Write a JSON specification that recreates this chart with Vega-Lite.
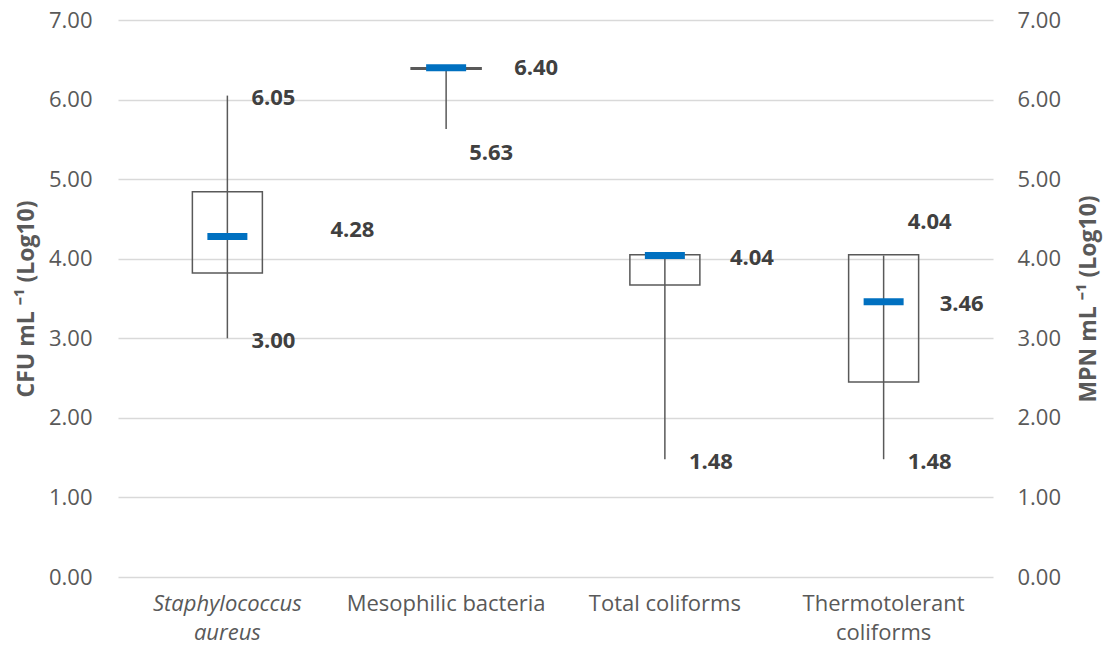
{
  "$schema": "https://vega.github.io/schema/vega-lite/v6.json",
  "width": 875,
  "height": 557,
  "autosize": {"type": "none"},
  "padding": {"left": 118, "top": 20, "right": 112, "bottom": 75},
  "background": "white",
  "config": {
    "view": {"stroke": null},
    "font": "Open Sans",
    "axis": {
      "labelFont": "Open Sans",
      "labelFontSize": 22,
      "labelColor": "#595959",
      "titleFont": "Open Sans",
      "titleFontSize": 23,
      "titleFontWeight": "bold",
      "titleColor": "#595959",
      "ticks": false,
      "domain": false,
      "labelLimit": 0
    }
  },
  "data": {
    "values": [
      {"cat": "Staphylococcus aureus", "min": 3.00, "q1": 3.82, "median": 4.28, "q3": 4.84, "max": 6.05},
      {"cat": "Mesophilic bacteria", "min": 5.63, "q1": 6.38, "median": 6.40, "q3": 6.40, "max": 6.40},
      {"cat": "Total coliforms", "min": 1.48, "q1": 3.67, "median": 4.04, "q3": 4.05, "max": 4.04},
      {"cat": "Thermotolerant coliforms", "min": 1.48, "q1": 2.45, "median": 3.46, "q3": 4.05, "max": 4.04}
    ]
  },
  "layer": [
    {
      "encoding": {
        "x": {
          "field": "cat",
          "type": "nominal",
          "sort": null,
          "scale": {"paddingInner": 0, "paddingOuter": 0},
          "axis": {
            "title": null,
            "labelAngle": 0,
            "labelPadding": 16,
            "labelBaseline": "top",
            "labelLineHeight": 29,
            "labelExpr": "datum.value == 'Staphylococcus aureus' ? ['Staphylococcus', 'aureus'] : datum.value == 'Thermotolerant coliforms' ? ['Thermotolerant', 'coliforms'] : datum.value",
            "labelFontStyle": {"condition": {"test": "datum.value == 'Staphylococcus aureus'", "value": "italic"}, "value": "normal"}
          }
        }
      },
      "layer": [
        {
          "mark": {"type": "bar", "size": 70, "fillOpacity": 0, "stroke": "#595959", "strokeWidth": 1.5},
          "encoding": {
            "y": {
              "field": "q1",
              "type": "quantitative",
              "scale": {"domain": [0, 7], "nice": false},
              "axis": {
                "title": "CFU mL ⁻¹ (Log10)",
                "format": ".2f",
                "values": [0, 1, 2, 3, 4, 5, 6, 7],
                "grid": true,
                "gridColor": "#d9d9d9",
                "gridWidth": 1.5,
                "labelPadding": 26,
                "titlePadding": 10
              }
            },
            "y2": {"field": "q3"}
          }
        },
        {
          "mark": {"type": "rule", "stroke": "#595959", "strokeWidth": 1.5},
          "encoding": {"y": {"field": "min", "type": "quantitative"}, "y2": {"field": "max"}}
        },
        {
          "mark": {"type": "tick", "color": "#0070C0", "size": 40, "thickness": 7, "opacity": 1},
          "encoding": {"y": {"field": "median", "type": "quantitative"}}
        },
        {
          "transform": [{"filter": "datum.cat == 'Staphylococcus aureus'"}],
          "mark": {"type": "text", "fontWeight": "bold", "fontSize": 22, "color": "#404040", "dx": 46, "dy": 2},
          "encoding": {"y": {"field": "max", "type": "quantitative"}, "text": {"field": "max", "type": "quantitative", "format": ".2f"}}
        },
        {
          "transform": [{"filter": "datum.cat == 'Thermotolerant coliforms'"}],
          "mark": {"type": "text", "fontWeight": "bold", "fontSize": 22, "color": "#404040", "dx": 46, "dy": -34},
          "encoding": {"y": {"field": "max", "type": "quantitative"}, "text": {"field": "max", "type": "quantitative", "format": ".2f"}}
        },
        {
          "transform": [{"filter": "datum.cat == 'Staphylococcus aureus'"}],
          "mark": {"type": "text", "fontWeight": "bold", "fontSize": 22, "color": "#404040", "dx": 125, "dy": -6},
          "encoding": {"y": {"field": "median", "type": "quantitative"}, "text": {"field": "median", "type": "quantitative", "format": ".2f"}}
        },
        {
          "transform": [{"filter": "datum.cat == 'Mesophilic bacteria'"}],
          "mark": {"type": "text", "fontWeight": "bold", "fontSize": 22, "color": "#404040", "dx": 90, "dy": 0},
          "encoding": {"y": {"field": "median", "type": "quantitative"}, "text": {"field": "median", "type": "quantitative", "format": ".2f"}}
        },
        {
          "transform": [{"filter": "datum.cat == 'Total coliforms'"}],
          "mark": {"type": "text", "fontWeight": "bold", "fontSize": 22, "color": "#404040", "dx": 87, "dy": 2},
          "encoding": {"y": {"field": "median", "type": "quantitative"}, "text": {"field": "median", "type": "quantitative", "format": ".2f"}}
        },
        {
          "transform": [{"filter": "datum.cat == 'Thermotolerant coliforms'"}],
          "mark": {"type": "text", "fontWeight": "bold", "fontSize": 22, "color": "#404040", "dx": 78, "dy": 2},
          "encoding": {"y": {"field": "median", "type": "quantitative"}, "text": {"field": "median", "type": "quantitative", "format": ".2f"}}
        },
        {
          "transform": [{"filter": "datum.cat != 'Mesophilic bacteria'"}],
          "mark": {"type": "text", "fontWeight": "bold", "fontSize": 22, "color": "#404040", "dx": 46, "dy": 3},
          "encoding": {"y": {"field": "min", "type": "quantitative"}, "text": {"field": "min", "type": "quantitative", "format": ".2f"}}
        },
        {
          "transform": [{"filter": "datum.cat == 'Mesophilic bacteria'"}],
          "mark": {"type": "text", "fontWeight": "bold", "fontSize": 22, "color": "#404040", "dx": 45, "dy": 24},
          "encoding": {"y": {"field": "min", "type": "quantitative"}, "text": {"field": "min", "type": "quantitative", "format": ".2f"}}
        }
      ]
    },
    {
      "mark": {"type": "rule", "opacity": 0},
      "encoding": {
        "x": {"field": "cat", "type": "nominal", "sort": null},
        "y": {
          "field": "min",
          "type": "quantitative",
          "scale": {"domain": [0, 7], "nice": false},
          "axis": {
            "orient": "right",
            "title": "MPN mL ⁻¹ (Log10)",
            "titleAngle": 270,
            "format": ".2f",
            "values": [0, 1, 2, 3, 4, 5, 6, 7],
            "grid": false,
            "labelPadding": 24,
            "titlePadding": 40
          }
        }
      }
    }
  ],
  "resolve": {"scale": {"y": "independent"}}
}
